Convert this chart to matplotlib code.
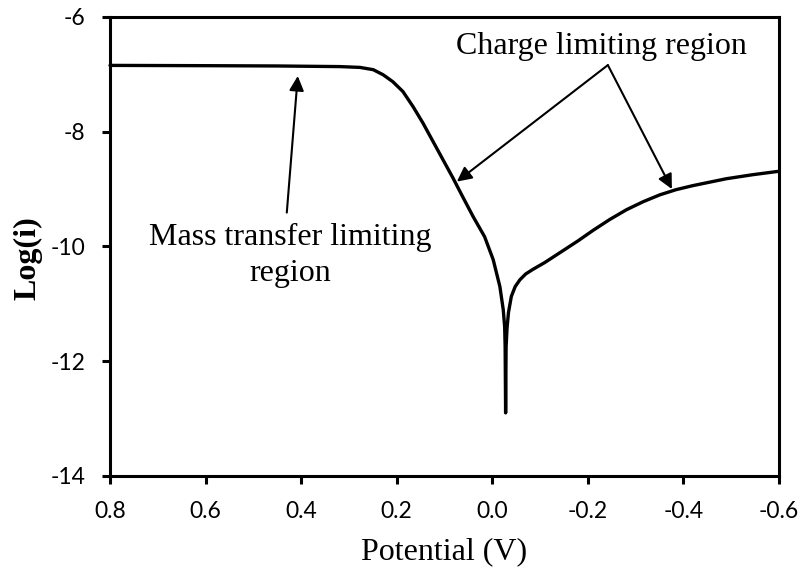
import matplotlib
matplotlib.use('Agg')
import matplotlib.pyplot as plt

plt.rcParams['axes.unicode_minus'] = False

# Polarisation curve: left (anodic) branch down to the corrosion dip,
# then back up along the right (cathodic) branch.
potential = [0.80, 0.60, 0.45, 0.319, 0.277, 0.249, 0.228, 0.208, 0.187,
             0.166, 0.145, 0.124, 0.103, 0.082, 0.064, 0.040, 0.016,
             -0.002, -0.016, -0.023, -0.026, -0.027, -0.028,
             -0.029, -0.031, -0.034, -0.040, -0.048, -0.058, -0.070,
             -0.085, -0.110, -0.134, -0.180, -0.211, -0.246, -0.281,
             -0.316, -0.351, -0.385, -0.420, -0.455, -0.490, -0.545, -0.60]
log_i = [-6.845, -6.85, -6.855, -6.866, -6.88, -6.92, -7.01, -7.13, -7.30,
         -7.56, -7.85, -8.17, -8.49, -8.81, -9.10, -9.48, -9.83,
         -10.23, -10.70, -11.10, -11.40, -11.75, -12.90,
         -11.75, -11.42, -11.15, -10.87, -10.70, -10.58, -10.48,
         -10.40, -10.28, -10.15, -9.90, -9.72, -9.53, -9.36,
         -9.22, -9.10, -9.01, -8.94, -8.88, -8.82, -8.75, -8.69]

x_ticks = [0.8, 0.6, 0.4, 0.2, 0.0, -0.2, -0.4, -0.6]
y_ticks = [-14, -12, -10, -8, -6]

fig = plt.figure(figsize=(8.03, 5.71), dpi=100)
ax = fig.add_axes([0.137, 0.1664, 0.833, 0.804])

ax.plot(potential, log_i, color='black', lw=2.4, solid_joinstyle='round',
        solid_capstyle='round', clip_on=False)

ax.set_xlim(0.8, -0.6)
ax.set_ylim(-14, -6)
ax.set_xticks(x_ticks)
ax.set_xticklabels(['%.1f' % v for v in x_ticks])
ax.set_yticks(y_ticks)
ax.set_yticklabels([str(v) for v in y_ticks])

for s in ax.spines.values():
    s.set_linewidth(2.2)
ax.tick_params(direction='out', length=6, width=2.2, pad=12,
               labelsize=16.5, top=False, right=False)
for lab in ax.get_xticklabels() + ax.get_yticklabels():
    lab.set_family('Lato')

# axis titles placed in figure pixels
W, H = 803, 571
fig.text(444 / W, 1 - 552 / H, 'Potential (V)', family='Liberation Serif',
         fontsize=23, ha='center', va='center')
fig.text(28 / W, 1 - 258 / H, 'Log(i)', family='Liberation Serif',
         fontsize=23, fontweight='bold', rotation=90,
         ha='center', va='center')

arrow = dict(arrowstyle='-|>', color='black', lw=1.5, mutation_scale=22,
             shrinkA=0, shrinkB=0)

ax.annotate('', xy=(0.407, -7.03), xytext=(0.430, -9.41), arrowprops=arrow)
ax.text(0.423, -10.155, 'Mass transfer limiting\nregion',
        family='Liberation Serif', fontsize=23, ha='center', va='center',
        linespacing=1.3)

ax.annotate('', xy=(0.074, -8.87), xytext=(-0.242, -6.84), arrowprops=arrow)
ax.annotate('', xy=(-0.376, -9.00), xytext=(-0.242, -6.84), arrowprops=arrow)
ax.text(-0.229, -6.52, 'Charge limiting region',
        family='Liberation Serif', fontsize=23, ha='center', va='center')

fig.savefig('out.png', dpi=100)
